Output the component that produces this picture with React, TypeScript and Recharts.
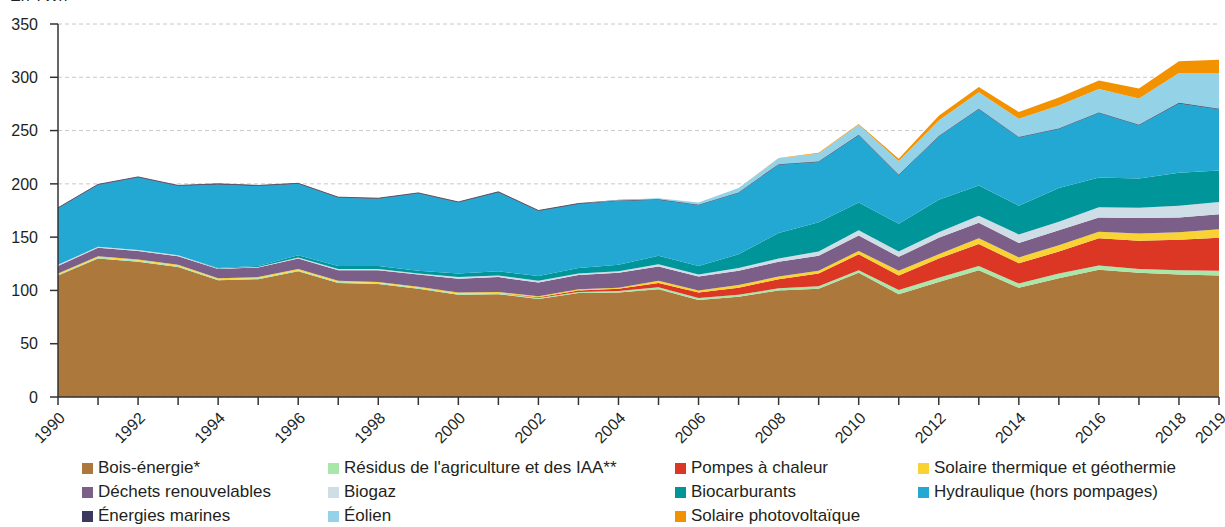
import React from "react";
import { AreaChart, Area, XAxis, YAxis, CartesianGrid } from "recharts";

// 1990 -> 2019, TWh
const years = [1990, 1991, 1992, 1993, 1994, 1995, 1996, 1997, 1998, 1999, 2000, 2001, 2002, 2003, 2004, 2005, 2006, 2007, 2008, 2009, 2010, 2011, 2012, 2013, 2014, 2015, 2016, 2017, 2018, 2019];
const labelYears = [1990, 1992, 1994, 1996, 1998, 2000, 2002, 2004, 2006, 2008, 2010, 2012, 2014, 2016, 2018, 2019];
const yTicks = [0, 50, 100, 150, 200, 250, 300, 350];

const bois = [114, 130, 127, 122, 109.5, 110.5, 118, 107, 106, 101.5, 96, 96.5, 92, 97.5, 98, 101, 91, 94, 100, 101.5, 116.5, 96.5, 108, 119, 102.5, 111.5, 119.5, 116.5, 115, 114];
const residus = [1, 1, 1, 1, 1, 1, 1, 1, 1, 1, 1, 1, 1, 1, 1.5, 2, 2, 2, 2, 2.5, 2.5, 4, 4, 4, 4, 4.5, 4, 3.5, 4, 4.5];
const pompes = [0, 0, 0, 0, 0, 0, 0, 0, 0, 0, 0, 0, 0.5, 1.5, 2, 4, 5, 6.5, 8.5, 12, 15, 13.5, 18, 20.5, 19, 20.5, 25.5, 26.5, 28.5, 31];
const solaireTh = [1, 1, 1, 1, 1, 1, 1, 1, 1, 1, 1, 1, 1, 1, 1, 2, 2, 2.5, 2.5, 2.5, 3, 4.5, 4, 5.5, 5.5, 6, 6, 7, 7, 8];
const dechets = [7, 8, 8, 8, 8.5, 9, 10, 10, 11, 11.5, 13, 14, 13, 13.5, 14, 13.5, 13, 13.5, 14, 14, 14.5, 13, 15.5, 14.5, 13.5, 14, 13.5, 14.5, 14, 14];
const biogaz = [1, 1, 1, 1, 0.5, 0.5, 1, 1, 1, 1, 1.5, 1.5, 1.5, 1.5, 1.5, 2, 2, 2.5, 3, 4, 5, 5, 5, 6.5, 8, 8, 9.5, 9.5, 11, 11.5];
const biocarb = [0, 0, 0, 0, 0.5, 1, 2, 3, 3, 2.5, 3.5, 4, 4.5, 5, 6, 8, 8, 13, 24, 27.5, 26, 26, 30.5, 28.5, 27, 31.5, 28, 27.5, 31, 29.5];
const hydro = [53, 58, 68, 65, 78.5, 75, 67, 64, 63, 72.5, 66.5, 74, 61, 60, 60, 52.5, 57, 57.5, 64, 56.5, 63, 45.5, 59.5, 71.5, 64, 55.5, 60.5, 50, 65, 57.5];
const marines = [0.5, 0.5, 0.5, 0.5, 0.5, 0.5, 0.5, 0.5, 0.5, 0.5, 0.5, 0.5, 0.5, 0.5, 0.5, 0.5, 0.5, 0.5, 0.5, 0.5, 0.5, 0.5, 0.5, 0.5, 0.5, 0.5, 0.5, 0.5, 0.5, 0.5];
const eolien = [0, 0, 0, 0, 0, 0, 0, 0, 0, 0, 0, 0, 0, 0, 0.5, 1, 2, 4, 5.5, 7.5, 9.5, 13, 14.5, 15.5, 17, 21.5, 22, 24.5, 28, 33.5];
const pv = [0, 0, 0, 0, 0, 0, 0, 0, 0, 0, 0, 0, 0, 0, 0, 0, 0, 0.1, 0.3, 0.8, 0.6, 2, 4.5, 5, 6.5, 7.5, 8, 9.5, 11, 12.5];

const data = years.map((year, i) => ({
  year,
  bois: bois[i],
  residus: residus[i],
  pompes: pompes[i],
  solaireTh: solaireTh[i],
  dechets: dechets[i],
  biogaz: biogaz[i],
  biocarb: biocarb[i],
  hydro: hydro[i],
  marines: marines[i],
  eolien: eolien[i],
  pv: pv[i],
}));

// stacking order, bottom to top
const series = [
  { key: "bois", name: "Bois-énergie*", color: "#ad783b" },
  { key: "residus", name: "Résidus de l'agriculture et des IAA**", color: "#a9e6a9" },
  { key: "pompes", name: "Pompes à chaleur", color: "#dc3724" },
  { key: "solaireTh", name: "Solaire thermique et géothermie", color: "#f8d333" },
  { key: "dechets", name: "Déchets renouvelables", color: "#7b5f89" },
  { key: "biogaz", name: "Biogaz", color: "#cfdde6" },
  { key: "biocarb", name: "Biocarburants", color: "#009598" },
  { key: "hydro", name: "Hydraulique (hors pompages)", color: "#22a8d3" },
  { key: "marines", name: "Énergies marines", color: "#3b3960" },
  { key: "eolien", name: "Éolien", color: "#94d3e7" },
  { key: "pv", name: "Solaire photovoltaïque", color: "#f39200" },
];

const legendRows = [
  ["bois", "residus", "pompes", "solaireTh"],
  ["dechets", "biogaz", "biocarb", "hydro"],
  ["marines", "eolien", "pv"],
];
const legendCols = [82, 328, 675, 918];

const font = "'Liberation Sans', Arial, Helvetica, sans-serif";
const ink = "#231f20";

const YearTick = (props: any) => {
  const { x, y, payload } = props;
  if (!labelYears.includes(payload.value)) return <g />;
  const ax = x + 8;
  const ay = y + 12;
  return (
    <text x={ax} y={ay} transform={`rotate(-45, ${ax}, ${ay})`} textAnchor="end" fontSize={16} fill={ink} fontFamily={font}>
      {payload.value}
    </text>
  );
};

export default function App() {
  return (
    <div style={{ position: "absolute", left: 0, top: 0, width: 1225, height: 527, fontFamily: font, background: "#fff", overflow: "hidden" }}>
      <div style={{ position: "absolute", left: 10, top: -12, fontSize: 16, lineHeight: "16px", color: ink }}>En TWh</div>
      <AreaChart width={1225} height={527} data={data} margin={{ top: 24, right: 6, left: 0, bottom: 0 }}>
        <CartesianGrid vertical={false} stroke="#c8c8c8" strokeDasharray="4 3" />
        <XAxis
          dataKey="year"
          type="number"
          domain={[1990, 2019]}
          ticks={years}
          interval={0}
          height={130}
          tickSize={8}
          tickMargin={2}
          stroke="#333"
          strokeWidth={1.5}
          tickLine={{ stroke: "#333", strokeWidth: 1.5 }}
          tick={<YearTick />}
        />
        <YAxis
          domain={[0, 350]}
          ticks={yTicks}
          width={58}
          tickSize={8}
          tickMargin={12}
          stroke="#333"
          strokeWidth={1.5}
          tick={{ fontSize: 16, fill: ink, fontFamily: font }}
        />
        {series.map((s) => (
          <Area
            key={s.key}
            dataKey={s.key}
            name={s.name}
            stackId="a"
            type="linear"
            fill={s.color}
            fillOpacity={1}
            stroke={s.key === "marines" ? "#55556a" : "none"}
            strokeWidth={s.key === "marines" ? 1 : 0}
            isAnimationActive={false}
            dot={false}
            activeDot={false}
          />
        ))}
      </AreaChart>
      {legendRows.map((row, r) =>
        row.map((key, c) => {
          const s = series.find((d) => d.key === key)!;
          return (
            <div
              key={key}
              style={{ position: "absolute", left: legendCols[c], top: 468 + r * 24 - 11, height: 22, display: "flex", alignItems: "center", fontSize: 17, color: ink, whiteSpace: "nowrap" }}
            >
              <span style={{ display: "inline-block", width: 11, height: 11, background: s.color, marginRight: 5 }} />
              {s.name}
            </div>
          );
        })
      )}
    </div>
  );
}
